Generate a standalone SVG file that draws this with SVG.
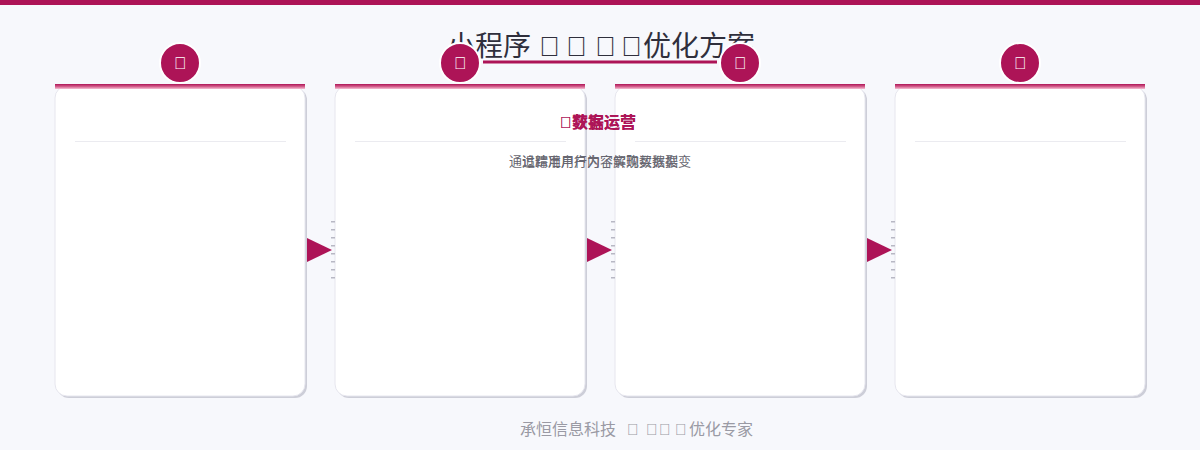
<svg xmlns="http://www.w3.org/2000/svg" width="1200" height="450" viewBox="0 0 1200 450">
<defs>
<linearGradient id="bar" x1="0" y1="0" x2="0" y2="1">
<stop offset="0" stop-color="#AD1457"/>
<stop offset="0.5" stop-color="#d35c8a"/>
<stop offset="1" stop-color="#f4c0d4"/>
</linearGradient>
<style>
.cjk{font-family:"Liberation Sans","Noto Sans CJK SC",sans-serif}
.shadow{fill:#cdced8}
.card{fill:#ffffff;stroke:#e6e6ee;stroke-width:1}
.sep{stroke:#ebebf0;stroke-width:1}
.badge{fill:#AD1457;stroke:#ffffff;stroke-width:2}
.icon{fill:#ffffff;font-size:17px;text-anchor:middle}
.ctitle{fill:#AD1457;font-size:16px;font-weight:bold;text-anchor:middle}
.cdesc{fill:#666670;font-size:13px;text-anchor:middle}
.arrow{fill:#AD1457}
.ticks{stroke:#b8b8c4;stroke-width:4;stroke-dasharray:1.5 6.5}
</style>
</defs>
<rect width="1200" height="450" fill="#F7F8FC"/>
<rect x="0" y="0" width="1200" height="5" fill="#AD1457"/>
<text class="cjk" x="447" y="56" font-size="28" fill="#2f2f3c">小程序<tspan x="539">&#xE001;</tspan><tspan x="566">&#xE002;</tspan><tspan x="595">&#xE003;</tspan><tspan x="621">&#xE004;</tspan><tspan x="643">优化方案</tspan></text>
<rect x="483" y="60.500" width="234" height="3" fill="#AD1457"/>
<g id="node1">
<rect class="shadow" x="57" y="88" width="250" height="310" rx="12"/>
<rect class="card" x="55" y="86" width="250" height="310" rx="12"/>
<rect x="55" y="84" width="250" height="5" fill="url(#bar)"/>
<line class="sep" x1="75" y1="141.500" x2="286" y2="141.500"/>
<circle class="badge" cx="180" cy="63" r="20"/>
<text class="cjk icon" x="180" y="69">&#xE011;</text>
</g>
<g id="node2">
<rect class="shadow" x="337" y="88" width="250" height="310" rx="12"/>
<rect class="card" x="335" y="86" width="250" height="310" rx="12"/>
<rect x="335" y="84" width="250" height="5" fill="url(#bar)"/>
<line class="sep" x1="355" y1="141.500" x2="566" y2="141.500"/>
<circle class="badge" cx="460" cy="63" r="20"/>
<text class="cjk icon" x="460" y="69">&#xE012;</text>
</g>
<g id="node3">
<rect class="shadow" x="617" y="88" width="250" height="310" rx="12"/>
<rect class="card" x="615" y="86" width="250" height="310" rx="12"/>
<rect x="615" y="84" width="250" height="5" fill="url(#bar)"/>
<line class="sep" x1="635" y1="141.500" x2="846" y2="141.500"/>
<circle class="badge" cx="740" cy="63" r="20"/>
<text class="cjk icon" x="740" y="69">&#xE013;</text>
</g>
<g id="node4">
<rect class="shadow" x="897" y="88" width="250" height="310" rx="12"/>
<rect class="card" x="895" y="86" width="250" height="310" rx="12"/>
<rect x="895" y="84" width="250" height="5" fill="url(#bar)"/>
<line class="sep" x1="915" y1="141.500" x2="1126" y2="141.500"/>
<circle class="badge" cx="1020" cy="63" r="20"/>
<text class="cjk icon" x="1020" y="69">&#xE014;</text>
</g>
<g id="overlap-texts">
<text class="cjk ctitle" x="598" y="128">&#xE021;数据运营</text>
<text class="cjk ctitle" x="598" y="128">&#xE022;获客运营</text>
<text class="cjk cdesc" x="600" y="166">通过精准用户内容实现数据裂变</text>
<text class="cjk cdesc" x="600" y="166">追踪用户行为了解购买数据</text>
</g>
<g id="connectors">
<polygon class="arrow" points="307,238 332,250 307,262"/>
<polygon class="arrow" points="587,238 612,250 587,262"/>
<polygon class="arrow" points="867,238 892,250 867,262"/>
<line class="ticks" x1="333" y1="221" x2="333" y2="279"/>
<line class="ticks" x1="613" y1="221" x2="613" y2="279"/>
<line class="ticks" x1="893" y1="221" x2="893" y2="279"/>
</g>
<text class="cjk" x="520" y="435" font-size="16" fill="#9a9aa4">承恒信息科技<tspan x="627">&#xE031;</tspan><tspan x="646">&#xE032;</tspan><tspan x="659">&#xE033;</tspan><tspan x="675">&#xE034;</tspan><tspan x="689">优化专家</tspan></text>
</svg>
